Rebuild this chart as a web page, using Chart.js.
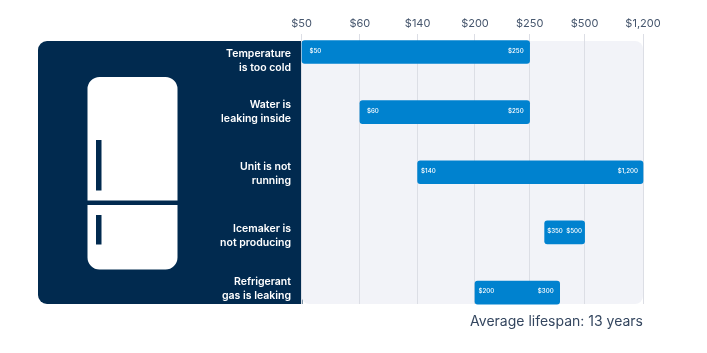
<!DOCTYPE html>
<html>
<head>
<meta charset="utf-8">
<title>Refrigerator repair costs</title>
<script src="https://cdn.jsdelivr.net/npm/chart.js@4/dist/chart.umd.min.js"></script>
<style>
  html, body { margin: 0; padding: 0; background: #fff; }
  canvas { display: block; }
</style>
</head>
<body>
<canvas id="chart" width="707" height="353"></canvas>
<script>
// the source axis is not to scale, so values are positions along it (0-100)
const tickLabels = ['$50', '$60', '$140', '$200', '$250', '$500', '$1,200'];
const tickPositions = [0, 17.1, 34, 50.8, 66.8, 82.9, 100];

const categories = [
    ['Temperature', 'is too cold'],
    ['Water is', 'leaking inside'],
    ['Unit is not', 'running'],
    ['Icemaker is', 'not producing'],
    ['Refrigerant', 'gas is leaking']
];
const categoryPositions = [0.14, 1.0, 2.03, 3.05, 3.93];

const barRows = [0, 1, 2, 3, 4];
const barStarts = [0, 17.1, 34, 71.2, 50.8];
const barEnds = [66.8, 66.8, 100, 82.9, 75.6];
const lowLabels = ['$50', '$60', '$140', '$350', '$200'];
const highLabels = ['$250', '$250', '$1,200', '$500', '$300'];

const caption = 'Average lifespan: 13 years';

const NAVY = '#012a4f';
const BLUE = '#0082cf';
const FONT = 'Inter, "Open Sans", sans-serif';

// dark panel, light plot background and the fridge icon
const backdrop = {
    id: 'backdrop',
    beforeDraw(chart) {
        const { ctx, chartArea: a } = chart;
        ctx.save();
        ctx.fillStyle = NAVY;
        ctx.beginPath();
        ctx.roundRect(38, a.top, a.left - 38 + 1, a.bottom - a.top, [9, 0, 0, 9]);
        ctx.fill();

        ctx.fillStyle = '#f2f3f8';
        ctx.beginPath();
        ctx.roundRect(a.left, a.top, a.right - a.left, a.bottom - a.top, 8);
        ctx.fill();

        ctx.fillStyle = '#fff';
        ctx.beginPath();
        ctx.roundRect(87.5, 77, 90, 123.5, [12, 12, 0, 0]);
        ctx.roundRect(87.5, 205, 90, 64.5, [0, 0, 12, 12]);
        ctx.fill();
        ctx.fillStyle = NAVY;
        ctx.fillRect(96, 140, 5.5, 50.5);
        ctx.fillRect(96, 215, 5.5, 29.5);
        ctx.restore();
    }
};

// price labels inside the bars and the caption underneath
const lowInsets = [7.5, 7, 3.5, 2.5, 3.5];
const highInsets = [6, 6, 5, 2.5, 6];
const barText = {
    id: 'barText',
    afterDatasetsDraw(chart) {
        const { ctx, chartArea: a } = chart;
        ctx.save();
        ctx.fillStyle = '#fff';
        ctx.font = '500 6.2px ' + FONT;
        ctx.textBaseline = 'middle';
        chart.getDatasetMeta(0).data.forEach((bar, i) => {
            ctx.textAlign = 'left';
            ctx.fillText(lowLabels[i], bar.base + lowInsets[i], bar.y - 1);
            ctx.textAlign = 'right';
            ctx.fillText(highLabels[i], bar.x - highInsets[i], bar.y - 1);
        });
        ctx.fillStyle = '#34465f';
        ctx.font = '400 14px ' + FONT;
        ctx.textAlign = 'right';
        ctx.fillText(caption, a.right, 321.5);
        ctx.restore();
    }
};

new Chart(document.getElementById('chart'), {
    type: 'bar',
    data: {
        datasets: [{
            data: barRows.map((row, i) => ({ y: row, x: [barStarts[i], barEnds[i]] })),
            backgroundColor: BLUE,
            borderRadius: 3,
            borderSkipped: false,
            barThickness: 23,
            clip: false
        }]
    },
    options: {
        indexAxis: 'y',
        responsive: false,
        animation: false,
        layout: { padding: { right: 64, bottom: 49 } },
        plugins: { legend: { display: false }, tooltip: { enabled: false } },
        scales: {
            x: {
                type: 'linear',
                position: 'top',
                min: 0,
                max: 100,
                afterFit(scale) { scale.height = 41; },
                afterBuildTicks(scale) { scale.ticks = tickPositions.map(v => ({ value: v })); },
                grid: { color: '#dcdee5', lineWidth: 1, tickLength: 7 },
                border: { display: false },
                ticks: {
                    callback: (value, i) => tickLabels[i],
                    color: '#46566d',
                    font: { family: FONT, size: 11 },
                    padding: 4,
                    maxRotation: 0,
                    autoSkip: false
                }
            },
            y: {
                type: 'linear',
                reverse: true,
                offset: false,
                min: -0.183,
                max: 4.19,
                afterFit(scale) { scale.width = 301.5; },
                afterBuildTicks(scale) { scale.ticks = categoryPositions.map(v => ({ value: v })); },
                grid: { display: false, drawTicks: false, offset: false },
                border: { display: false },
                ticks: {
                    callback: (value, i) => categories[i],
                    color: '#fff',
                    font: { family: FONT, size: 10.5, weight: '600', lineHeight: 1.33 },
                    padding: 10.5,
                    autoSkip: false
                }
            }
        }
    },
    plugins: [backdrop, barText]
});
</script>
</body>
</html>
